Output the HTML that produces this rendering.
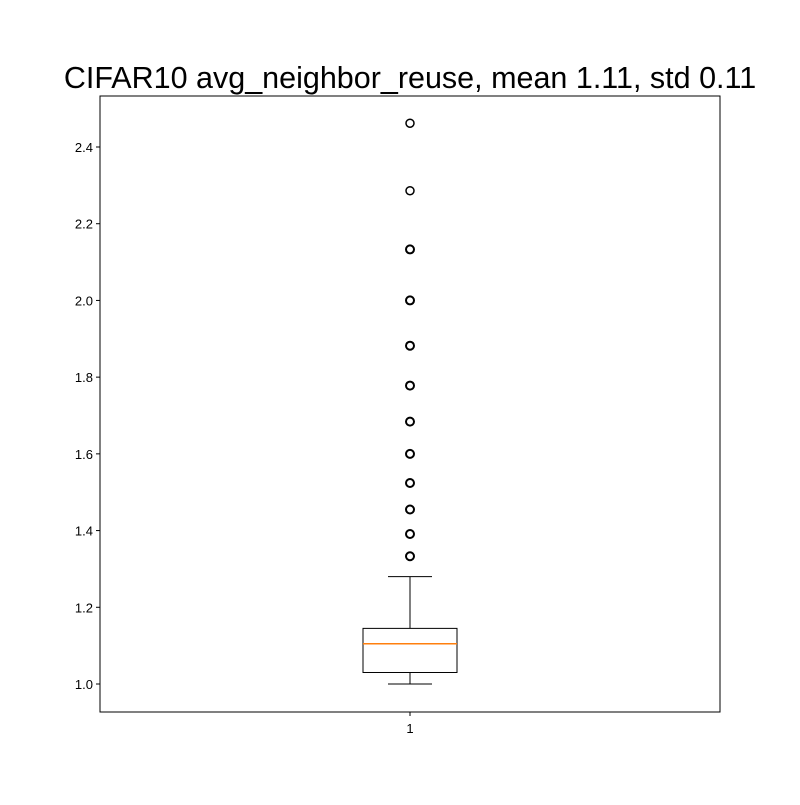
<!DOCTYPE html>
<html><head><meta charset="utf-8"><style>
body{margin:0;background:#fff;}
svg text{font-family:"Liberation Sans","DejaVu Sans",sans-serif;}
</style></head><body>
<svg id="chart" width="800" height="800" xmlns="http://www.w3.org/2000/svg">
<rect width="800" height="800" fill="#fff"/>
<text x="410" y="88" font-size="30.5" text-anchor="middle" fill="#000">CIFAR10 avg_neighbor_reuse, mean 1.11, std 0.11</text>
<g id="plot"></g>
</svg>
<script>
const yTicks=[1.0,1.2,1.4,1.6,1.8,2.0,2.2,2.4];
const boxStats=[1.0,1.03,1.105,1.145,1.28]; // whiskerLow,q1,median,q3,whiskerHigh
const outliers=[1.333,1.391,1.455,1.524,1.6,1.684,1.778,1.882,2.0,2.133,2.286,2.462];
const categories=["1"];
const L=100,R=720,T=96,B=712;
function y(v){return 684-(v-1.0)*383.57;}
function x(i){return 410+i*0;}
const ns="http://www.w3.org/2000/svg";
const g=document.getElementById('plot');
function el(t,a,p){const e=document.createElementNS(ns,t);for(const k in a)e.setAttribute(k,a[k]);(p||g).appendChild(e);return e;}
yTicks.forEach(v=>{
 const t=el('line',{x1:L-4,x2:L,y1:y(v),y2:y(v),stroke:'#000'});
 
 
 const l=el('text',{x:L-7,y:y(v)+5,'font-size':13,'text-anchor':'end'});
 l.textContent=v.toFixed(1);
 
 
});
categories.forEach((c,i)=>{
 const cx=x(i);
 const t=el('line',{x1:cx,x2:cx,y1:B,y2:B+4,stroke:'#000'});
 
 
 const l=el('text',{x:cx,y:B+21,'font-size':13,'text-anchor':'middle'});
 l.textContent=c;
 
 
 const [wl,q1,md,q3,wh]=boxStats;
 const w1=el('line',{x1:cx,x2:cx,y1:y(q1),y2:y(wl),stroke:'#000'});
 
 
 const w2=el('line',{x1:cx,x2:cx,y1:y(q3),y2:y(wh),stroke:'#000'});
 
 
 const c1=el('line',{x1:cx-22,x2:cx+22,y1:y(wl),y2:y(wl),stroke:'#000'});
 
 
 const c2=el('line',{x1:cx-22,x2:cx+22,y1:y(wh),y2:y(wh),stroke:'#000'});
 
 
 const b=el('rect',{x:cx-47,y:y(q3),width:94,height:y(q1)-y(q3),fill:'none',stroke:'#000'});
 
 
 const m=el('line',{x1:cx-47,x2:cx+47,y1:y(md),y2:y(md),stroke:'#ff7f0e','stroke-width':1.5});
 
 
 outliers.forEach(o=>{
  const p=el('circle',{cx:cx,cy:y(o),r:4,fill:'none',stroke:'#000','stroke-width':o<2.2?2:1.5});
  
  
 });
});
const f=el('rect',{x:L,y:T,width:R-L,height:B-T,fill:'none',stroke:'#000'});


</script>
</body></html>
